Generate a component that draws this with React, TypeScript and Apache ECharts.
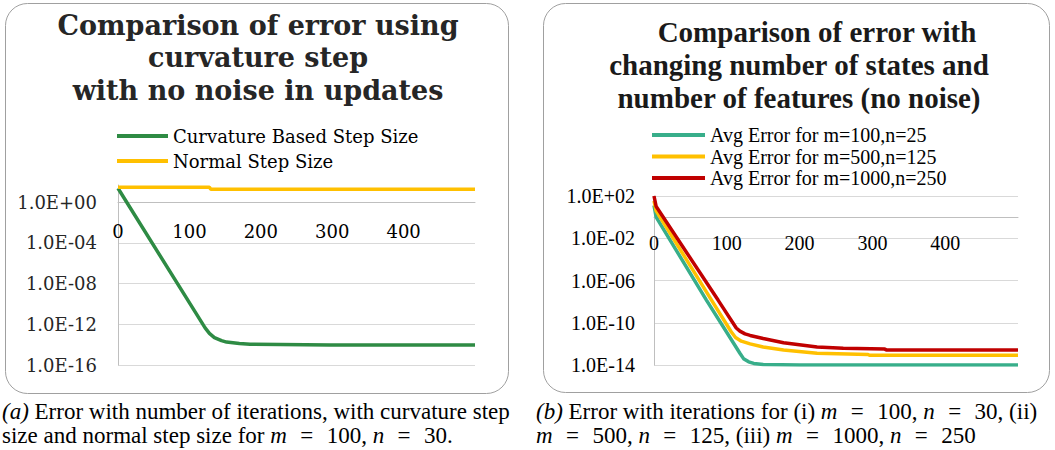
import React, { useEffect, useRef } from "react";
import * as echarts from "echarts";

// ---------- Left chart (a) ----------
const LEFT_TITLE = ["Comparison of error using", "curvature step", "with no noise in updates"];
const LEFT_SERIES_NAMES = ["Curvature Based Step Size", "Normal Step Size"];
const ITER_CURV = [0, 122, 128, 135, 145, 152, 170, 185, 227, 297, 500];
const ERR_CURV = [2.4e1, 4.4e-13, 1.3e-13, 5.0e-14, 2.5e-14, 1.8e-14, 1.3e-14, 1.1e-14, 1.05e-14, 9.3e-15, 9.3e-15];
const ITER_NORMAL = [0, 128, 130, 500];
const ERR_NORMAL = [3.0e1, 3.0e1, 1.9e1, 1.9e1];
const LEFT_Y_TICKS = [-16, -12, -8, -4, 0]; // powers of ten
const X_TICKS = [0, 100, 200, 300, 400];

// ---------- Right chart (b) ----------
const RIGHT_TITLE = ["Comparison of error with", "changing number of states and", "number of features (no noise)"];
const RIGHT_SERIES_NAMES = ["Avg Error for m=100,n=25", "Avg Error for m=500,n=125", "Avg Error for m=1000,n=250"];
const ITER_M100 = [0, 3, 72, 118, 123, 130, 137, 150, 200, 500];
const ERR_M100 = [1.3e1, 1.0e0, 1.4e-8, 1.3e-13, 4.0e-14, 2.0e-14, 1.4e-14, 1.1e-14, 1.0e-14, 1.0e-14];
const ITER_M500 = [0, 3, 79, 106, 112, 120, 132, 150, 178, 224, 294, 296, 500];
const ERR_M500 = [3.5e1, 4.0e0, 1.4e-8, 1.4e-11, 4.0e-12, 1.8e-12, 1.0e-12, 5.0e-13, 2.6e-13, 1.3e-13, 1.0e-13, 8.5e-14, 8.5e-14];
const ITER_M1000 = [0, 3, 88, 113, 118, 125, 132, 150, 178, 224, 260, 317, 319, 500];
const ERR_M1000 = [1.0e2, 1.0e1, 1.4e-8, 3.2e-11, 1.6e-11, 8.9e-12, 6.3e-12, 3.2e-12, 1.3e-12, 5.0e-13, 3.8e-13, 3.2e-13, 2.7e-13, 2.6e-13];
const RIGHT_Y_TICKS = [-14, -10, -6, -2, 2];

// ---------- Captions ----------
const EQ = "\u2002\u200A=\u2002\u200A";
const CAPTION_A = [
  "{i|(a)} Error with number of iterations, with curvature step",
  `size and normal step size for {i|m}${EQ}100, {i|n}${EQ}30.`,
];
const CAPTION_B = [
  `{i|(b)} Error with iterations for (i) {i|m}${EQ}100, {i|n}${EQ}30, (ii)`,
  `{i|m}${EQ}500, {i|n}${EQ}125, (iii) {i|m}${EQ}1000, {i|n}${EQ}250`,
];

const GREEN = "#2E8B44";
const GOLD = "#FFC000";
const TEAL = "#38AE8A";
const RED = "#C00000";
const GRID_C = "#D9D9D9";
const AXIS_C = "#BFBFBF";
const SERIF_A = "DejaVu Serif";
const SERIF_B = "Liberation Serif";

const LEFT_GRID = { left: 118, top: 185, width: 357, height: 180 };
const RIGHT_GRID = { left: 654, top: 196, width: 364, height: 169 };
const LEFT_Y = [-16, 1.7];
const RIGHT_Y = [-14, 2];

const toPts = (it: number[], err: number[]) => it.map((x, i) => [x, Math.log10(err[i])]);
const fmtE = (v: number) => {
  const e = Math.round(v);
  return "1.0E" + (e < 0 ? "-" : "+") + String(Math.abs(e)).padStart(2, "0");
};

export default function App() {
  const ref = useRef<HTMLDivElement>(null);
  useEffect(() => {
    if (!ref.current) return;
    const chart = echarts.init(ref.current, null, { renderer: "svg" });

    const lineSeries = (name: string, color: string, idx: number, it: number[], err: number[]) => ({
      name,
      type: "line",
      xAxisIndex: idx,
      yAxisIndex: idx,
      data: toPts(it, err),
      showSymbol: false,
      symbol: "none",
      color,
      lineStyle: { color, width: 3.5 },
      smooth: false,
    });

    const graphics: any[] = [
      { type: "rect", shape: { x: 5.5, y: 3.5, width: 503, height: 390, r: 22 }, style: { fill: "none", stroke: "#A0A0A0", lineWidth: 1 }, z: -10 },
      { type: "rect", shape: { x: 543.5, y: 3.5, width: 506, height: 389, r: 22 }, style: { fill: "none", stroke: "#A0A0A0", lineWidth: 1 }, z: -10 },
    ];
    LEFT_TITLE.forEach((t, i) =>
      graphics.push({
        type: "text", x: 258, y: 25 + i * 32.5,
        style: { text: t, fontFamily: SERIF_A, fontWeight: "bold", fontSize: 27, fill: "#262626", align: "center", verticalAlign: "middle" },
      })
    );
    const rightTitleX = [817, 799, 799];
    RIGHT_TITLE.forEach((t, i) =>
      graphics.push({
        type: "text", x: rightTitleX[i], y: 32 + i * 33,
        style: { text: t, fontFamily: SERIF_B, fontWeight: "bold", fontSize: 29, fill: "#1a1a1a", align: "center", verticalAlign: "middle" },
      })
    );
    const rich = { i: { fontStyle: "italic", fontFamily: SERIF_B, fontSize: 23, fill: "#000" } };
    CAPTION_A.forEach((t, i) =>
      graphics.push({
        type: "text", x: 2, y: 411.5 + i * 23.5,
        style: { text: t, rich, fontFamily: SERIF_B, fontSize: 23, fill: "#000", align: "left", verticalAlign: "middle" },
      })
    );
    CAPTION_B.forEach((t, i) =>
      graphics.push({
        type: "text", x: 536, y: 411.5 + i * 23.5,
        style: { text: t, rich, fontFamily: SERIF_B, fontSize: 23, fill: "#000", align: "left", verticalAlign: "middle" },
      })
    );

    // x axis crosses the y axis at 1.0E+00 (log10 = 0)
    const zeroOffset = (g: { height: number }, yr: number[]) => -(g.height * (0 - yr[0])) / (yr[1] - yr[0]);

    const xAxisBase = (idx: number, font: string, size: number, margin: number, offset: number) => ({
      type: "value",
      gridIndex: idx,
      min: 0,
      max: 500,
      position: "bottom",
      offset,
      axisLine: { show: true, onZero: false, lineStyle: { color: AXIS_C, width: 1 } },
      axisTick: { show: false, customValues: X_TICKS },
      axisLabel: { customValues: X_TICKS, fontFamily: font, fontSize: size, color: "#000", margin },
      splitLine: { show: false },
    });
    const yAxisBase = (idx: number, yr: number[], ticks: number[], font: string, size: number, margin: number, color: string) => ({
      type: "value",
      gridIndex: idx,
      min: yr[0],
      max: yr[1],
      axisLine: { show: true, onZero: false, lineStyle: { color: AXIS_C, width: 1 } },
      axisTick: { show: false, customValues: ticks },
      axisLabel: { customValues: ticks, formatter: fmtE, fontFamily: font, fontSize: size, color, margin },
      splitLine: { show: true, lineStyle: { color: GRID_C, width: 1 } },
    });

    chart.setOption({
      animation: false,
      backgroundColor: "#fff",
      grid: [
        { ...LEFT_GRID, outerBoundsMode: "none", containLabel: false },
        { ...RIGHT_GRID, outerBoundsMode: "none", containLabel: false },
      ],
      xAxis: [
        xAxisBase(0, SERIF_A, 18, 20, zeroOffset(LEFT_GRID, LEFT_Y)),
        xAxisBase(1, SERIF_B, 20, 16, zeroOffset(RIGHT_GRID, RIGHT_Y)),
      ],
      yAxis: [
        yAxisBase(0, LEFT_Y, LEFT_Y_TICKS, SERIF_A, 18, 21, "#262626"),
        yAxisBase(1, RIGHT_Y, RIGHT_Y_TICKS, SERIF_B, 20, 19, "#000"),
      ],
      legend: [
        {
          data: LEFT_SERIES_NAMES, orient: "vertical", left: 117, top: 127, icon: "rect",
          itemWidth: 51, itemHeight: 4, itemGap: 7, padding: 0, selectedMode: false,
          textStyle: { fontFamily: SERIF_A, fontSize: 18, lineHeight: 18, color: "#000" },
        },
        {
          data: RIGHT_SERIES_NAMES, orient: "vertical", left: 652, top: 125, icon: "rect",
          itemWidth: 53, itemHeight: 4, itemGap: 1.5, padding: 0, selectedMode: false,
          textStyle: { fontFamily: SERIF_B, fontSize: 20, lineHeight: 20, color: "#000" },
        },
      ],
      series: [
        lineSeries(LEFT_SERIES_NAMES[0], GREEN, 0, ITER_CURV, ERR_CURV),
        lineSeries(LEFT_SERIES_NAMES[1], GOLD, 0, ITER_NORMAL, ERR_NORMAL),
        lineSeries(RIGHT_SERIES_NAMES[0], TEAL, 1, ITER_M100, ERR_M100),
        lineSeries(RIGHT_SERIES_NAMES[1], GOLD, 1, ITER_M500, ERR_M500),
        lineSeries(RIGHT_SERIES_NAMES[2], RED, 1, ITER_M1000, ERR_M1000),
      ],
      graphic: graphics,
    });
    return () => chart.dispose();
  }, []);
  return <div ref={ref} style={{ position: "absolute", left: 0, top: 0, width: 1055, height: 450 }} />;
}
